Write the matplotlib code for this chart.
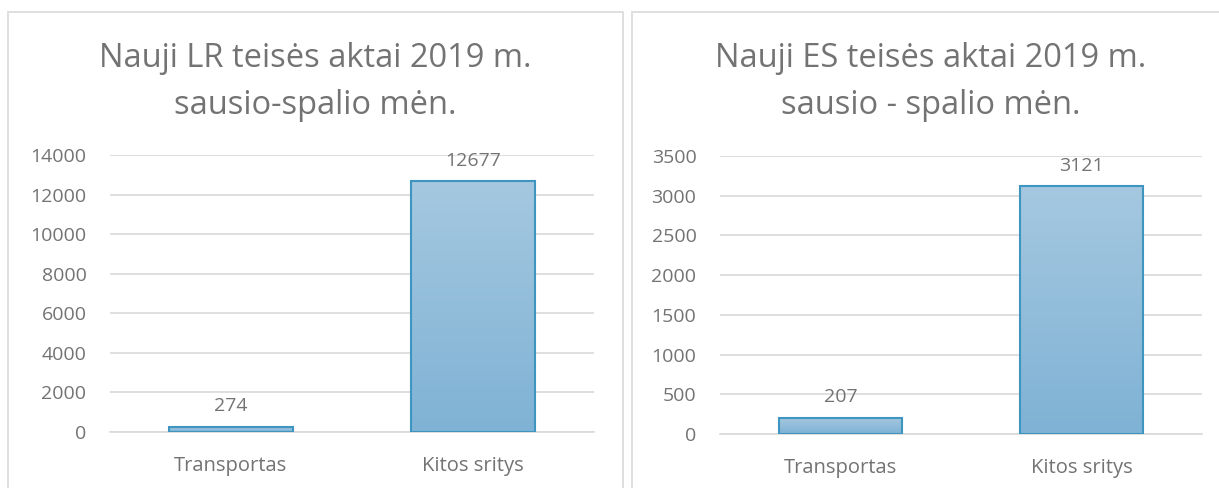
import matplotlib
matplotlib.use("Agg")
import matplotlib.pyplot as plt
import numpy as np
from matplotlib.patches import Rectangle
from matplotlib.colors import LinearSegmentedColormap

categories = ["Transportas", "Kitos sritys"]
lr_values = [274, 12677]
es_values = [207, 3121]
lr_title = "Nauji LR teisės aktai 2019 m.\nsausio-spalio mėn."
es_title = "Nauji ES teisės aktai 2019 m.\nsausio - spalio mėn."
lr_ticks = [0, 2000, 4000, 6000, 8000, 10000, 12000, 14000]
es_ticks = [0, 500, 1000, 1500, 2000, 2500, 3000, 3500]

W, H = 1219, 488
fig = plt.figure(figsize=(W / 100, H / 100), dpi=100)
plt.rcParams['font.family'] = ['Open Sans', 'DejaVu Sans']

text_col = "#737373"
grid_col = "#d9d9d9"
edge_col = "#3d95c0"
cmap = LinearSegmentedColormap.from_list("g", ["#7fb2d5", "#a5c8e0"])


def fx(px):
    return px / W


def fy(py):
    return 1 - py / H


# panel borders
for (x0, x1) in [(8, 623), (632, 1232)]:
    fig.patches.append(Rectangle((fx(x0), fy(500)), fx(x1 - x0), (500 - 12) / H,
                                 transform=fig.transFigure, fill=False,
                                 edgecolor="#d9d9d9", linewidth=1.2))


def draw(ax_rect, values, ticks, title, tcx):
    ax = fig.add_axes(ax_rect)
    x = np.arange(len(categories))
    bars = ax.bar(x, values, width=0.51, color="none", edgecolor=edge_col,
                  linewidth=1.5, zorder=3)
    grad = np.linspace(0, 1, 256).reshape(-1, 1)
    for b in bars:
        bx, by = b.get_x(), b.get_y()
        bw, bh = b.get_width(), b.get_height()
        im = ax.imshow(grad, cmap=cmap, aspect="auto", origin="lower",
                       extent=(bx, bx + bw, by, by + bh), zorder=2)
        im.set_clip_path(b)
    ax.set_xlim(-0.5, len(categories) - 0.5)
    ax.set_ylim(0, ticks[-1])
    ax.set_yticks(ticks)
    ax.set_yticklabels([str(t) for t in ticks])
    ax.set_xticks(x)
    ax.set_xticklabels(categories)
    ax.grid(axis="y", color=grid_col, linewidth=1.2, zorder=0)
    for s in ["top", "right", "left"]:
        ax.spines[s].set_visible(False)
    ax.spines["bottom"].set_color(grid_col)
    ax.spines["bottom"].set_linewidth(1.2)
    ax.tick_params(axis="y", length=0, colors=text_col, labelsize=14, pad=17)
    ax.tick_params(axis="x", length=0, colors=text_col, labelsize=14.5, pad=17)
    for xi, v in zip(x, values):
        ax.annotate(str(v), (xi, v), xytext=(0, 8), textcoords="offset points",
                    ha="center", va="bottom", color=text_col, fontsize=14)
    fig.text(fx(tcx), fy(82), title, ha="center", va="center", color=text_col,
             fontsize=23.5, linespacing=1.55)
    return ax


draw([fx(110), fy(432), fx(594 - 110), (432 - 155) / H], lr_values, lr_ticks, lr_title, 315.5)
draw([fx(720), fy(434), fx(1202 - 720), (434 - 156) / H], es_values, es_ticks, es_title, 931)

fig.savefig("out.png", dpi=100)
